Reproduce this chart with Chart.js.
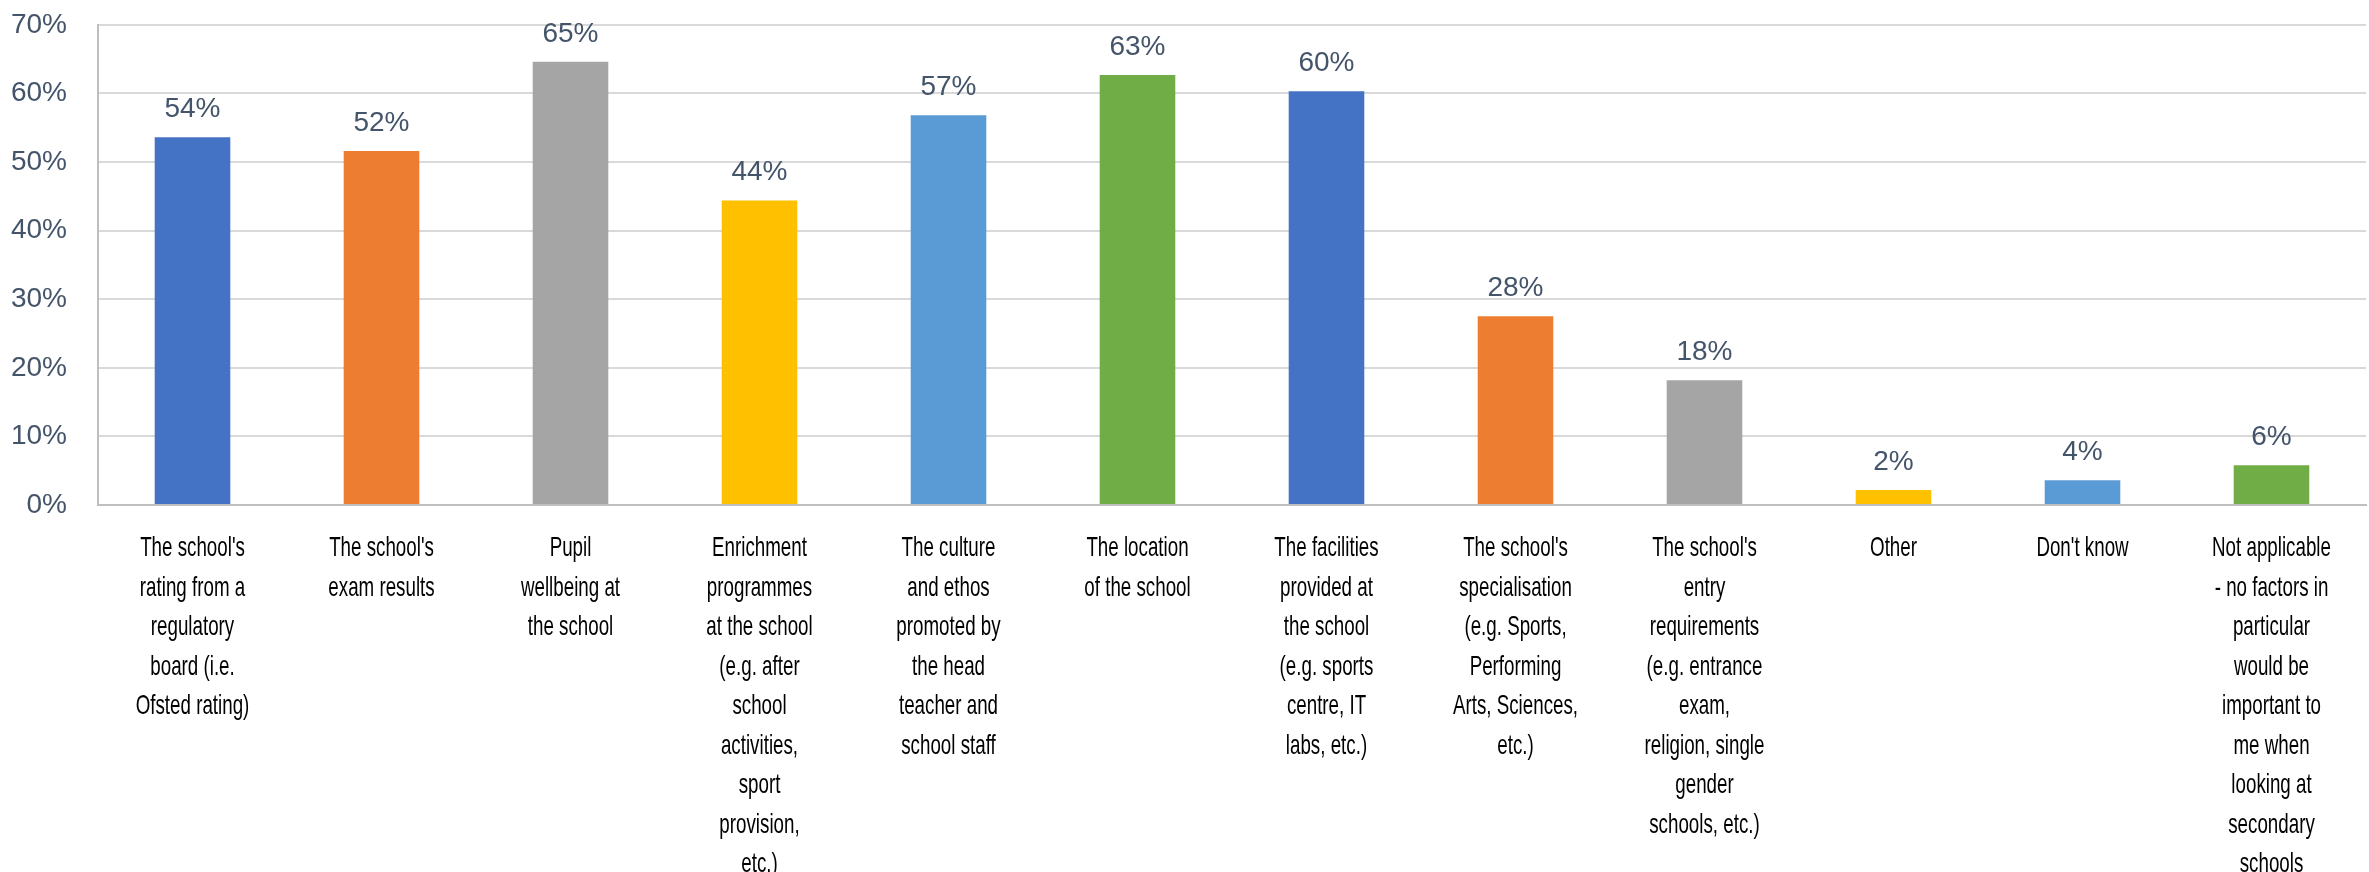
<!DOCTYPE html>
<html>
<head>
<meta charset="utf-8">
<script src="https://cdn.jsdelivr.net/npm/chart.js@4.4.1/dist/chart.umd.min.js"></script>
<style>
html,body{margin:0;padding:0;background:#fff;overflow:hidden;}
#outer{width:2369px;height:872px;position:relative;overflow:hidden;}
#wrap{width:2369px;height:895px;position:absolute;left:0;top:-23px;}
</style>
</head>
<body>
<div id="outer"><div id="wrap"><canvas id="c"></canvas></div></div>
<script>
const categories = [
  ["The school's","rating from a","regulatory","board (i.e.","Ofsted rating)"],
  ["The school's","exam results"],
  ["Pupil","wellbeing at","the school"],
  ["Enrichment","programmes","at the school","(e.g. after","school","activities,","sport","provision,","etc.)"],
  ["The culture","and ethos","promoted by","the head","teacher and","school staff"],
  ["The location","of the school"],
  ["The facilities","provided at","the school","(e.g. sports","centre, IT","labs, etc.)"],
  ["The school's","specialisation","(e.g. Sports,","Performing","Arts, Sciences,","etc.)"],
  ["The school's","entry","requirements","(e.g. entrance","exam,","religion, single","gender","schools, etc.)"],
  ["Other"],
  ["Don't know"],
  ["Not applicable","- no factors in","particular","would be","important to","me when","looking at","secondary","schools"]
];
const values = [53.6, 51.6, 64.6, 44.4, 56.8, 62.7, 60.3, 27.5, 18.2, 2.2, 3.6, 5.8];
const barColors = ["#4472C4","#ED7D31","#A5A5A5","#FFC000","#5B9BD5","#70AD47","#4472C4","#ED7D31","#A5A5A5","#FFC000","#5B9BD5","#70AD47"];
const yTicks = [0,10,20,30,40,50,60,70];

const dataLabels = {
  id: 'dataLabels',
  afterDatasetsDraw(chart) {
    const ctx = chart.ctx;
    const meta = chart.getDatasetMeta(0);
    ctx.save();
    ctx.font = '28px "Liberation Sans", Arial, sans-serif';
    ctx.fillStyle = '#44546A';
    ctx.textAlign = 'center';
    ctx.textBaseline = 'alphabetic';
    meta.data.forEach((bar, i) => {
      ctx.fillText(Math.round(values[i]) + '%', bar.x, bar.y - 20);
    });
    ctx.restore();
  }
};

// Category labels drawn condensed (the reference's labels are horizontally compressed)
const condensedLabels = {
  id: 'condensedLabels',
  afterDraw(chart) {
    const ctx = chart.ctx;
    const xs = chart.scales.x;
    const squeeze = 0.67;
    const lineStep = 39.5;
    const firstBaseline = xs.top + 51;
    ctx.save();
    ctx.font = '28px "Liberation Sans", Arial, sans-serif';
    ctx.fillStyle = '#000000';
    ctx.textAlign = 'center';
    ctx.textBaseline = 'alphabetic';
    categories.forEach((lines, i) => {
      const cx = xs.getPixelForValue(i);
      lines.forEach((txt, j) => {
        ctx.save();
        ctx.translate(cx, firstBaseline + j * lineStep);
        ctx.scale(squeeze, 1);
        ctx.fillText(txt, 0, 0);
        ctx.restore();
      });
    });
    ctx.restore();
  }
};

new Chart(document.getElementById('c'), {
  type: 'bar',
  data: {
    labels: categories,
    datasets: [{
      data: values,
      backgroundColor: barColors,
      borderWidth: 0,
      categoryPercentage: 1,
      barPercentage: 0.40
    }]
  },
  options: {
    responsive: true,
    maintainAspectRatio: false,
    devicePixelRatio: 1,
    animation: false,
    layout: { padding: { top: 0, right: 3, left: 0, bottom: 0 } },
    plugins: { legend: { display: false }, tooltip: { enabled: false } },
    scales: {
      x: {
        grid: { display: false, drawTicks: false },
        border: { display: true, color: '#BFBFBF', width: 2 },
        ticks: { display: false, autoSkip: false, maxRotation: 0, minRotation: 0 },
        afterFit(scale) { scale.height = 872 - 505; }
      },
      y: {
        min: 0,
        max: 70,
        afterBuildTicks(scale) { scale.ticks = yTicks.map(v => ({ value: v })); },
        grid: { color: '#D9D9D9', lineWidth: 2, drawTicks: false },
        border: { display: true, color: '#BFBFBF', width: 2 },
        ticks: {
          padding: 31,
          color: '#44546A',
          font: { family: '"Liberation Sans", Arial, sans-serif', size: 28 },
          callback: v => v + '%'
        },
        afterFit(scale) { scale.width = 98; }
      }
    }
  },
  plugins: [dataLabels, condensedLabels]
});
</script>
</body>
</html>
